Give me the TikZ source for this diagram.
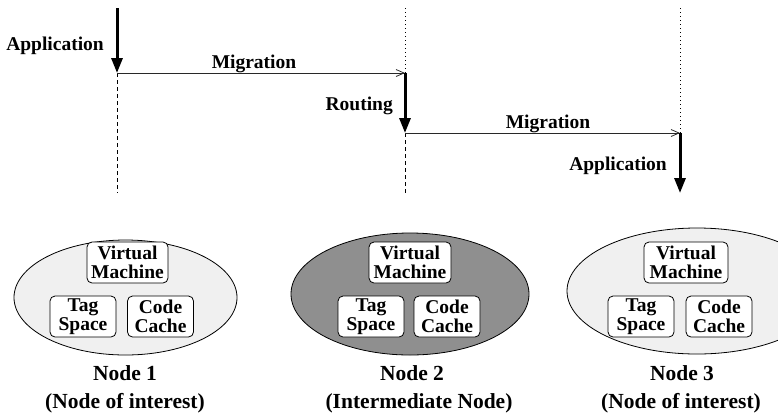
\documentclass[tikz,border=0pt]{standalone}
\usepackage{fontspec}
\setmainfont{Liberation Serif}
\usetikzlibrary{arrows.meta,shapes.geometric}
\definecolor{hostlight}{RGB}{240,240,240}
\definecolor{hostdark}{RGB}{143,143,143}
\definecolor{msgline}{RGB}{40,40,40}
\tikzset{
  lbl/.style={font=\fontsize{19.5}{18}\selectfont\bfseries, inner sep=0pt},
  caption/.style={font=\fontsize{21.5}{20}\selectfont\bfseries, inner sep=0pt},
  hostnode/.style={ellipse, draw, line width=0.8pt, inner sep=0pt},
  unitbox/.style={draw, rounded corners=5pt, fill=white, line width=0.8pt,
    minimum height=41pt, inner sep=0pt, align=center,
    font=\fontsize{19.5}{18.5}\selectfont\bfseries},
  execarrow/.style={line width=3pt, -{Triangle[length=15pt,width=11pt]}},
  migarrow/.style={line width=0.8pt, draw=msgline, -{Straight Barb[length=8pt,width=7pt,line width=0.8pt]}},
  lifeline/.style={line width=0.8pt, dash pattern=on 4pt off 3pt},
  idleline/.style={line width=0.8pt, dash pattern=on 1pt off 3pt},
}
\begin{document}
\begin{tikzpicture}[x=1pt,y=-1pt]
\useasboundingbox (0,0) rectangle (778,413);
\clip (0,0) rectangle (778,413);

% event points on the three time lines
\coordinate (s1) at (117,8);
\coordinate (m1) at (117,73);
\coordinate (b1) at (117,193);
\coordinate (s2) at (405,8);
\coordinate (m2) at (405,73);
\coordinate (r2) at (405,133);
\coordinate (b2) at (405,193);
\coordinate (s3) at (680,8);
\coordinate (m3) at (680,133);
\coordinate (b3) at (680,193);

% time lines
\draw[lifeline] (m1) -- (b1);
\draw[idleline] (s2) -- (m2);
\draw[lifeline] (r2) -- (b2);
\draw[idleline] (s3) -- (m3);

% migrations between nodes
\draw[migarrow] (m1) -- (m2);
\draw[migarrow] (r2) -- (m3);

% execution on each node
\draw[execarrow] (s1) -- (m1);
\draw[execarrow] (m2) -- (r2);
\draw[execarrow] (m3) -- (b3);

% event labels
\node[lbl, anchor=base east] (app1) at (104,50) {Application};
\node[lbl, anchor=base] (mig1) at (254,68) {Migration};
\node[lbl, anchor=base east] (rout) at (393,110) {Routing};
\node[lbl, anchor=base] (mig2) at (548,128) {Migration};
\node[lbl, anchor=base east] (app2) at (667,170) {Application};

% node 1
\node[hostnode, fill=hostlight, minimum width=223pt, minimum height=115pt] (n1) at (125.5,297.5) {};
\node[unitbox, minimum width=81pt] (vm1) at (127.5,262.5) {Virtual\\Machine};
\node[unitbox, minimum width=66pt] (ts1) at (83,316.5) {Tag\\Space};
\node[unitbox, minimum width=66pt] (cc1) at (160.5,316.5) {Code\\Cache};
\node[caption, anchor=base] (n1a) at (125,380) {Node 1};
\node[caption, anchor=base] (n1b) at (125,408) {(Node of interest)};

% node 2
\node[hostnode, fill=hostdark, minimum width=238pt, minimum height=122pt] (n2) at (410,294) {};
\node[unitbox, minimum width=82pt] (vm2) at (410,262.5) {Virtual\\Machine};
\node[unitbox, minimum width=66pt] (ts2) at (371,316.5) {Tag\\Space};
\node[unitbox, minimum width=66pt] (cc2) at (447,316.5) {Code\\Cache};
\node[caption, anchor=base] (n2a) at (412,380) {Node 2};
\node[caption, anchor=base] (n2b) at (419,408) {(Intermediate Node)};

% node 3
\node[hostnode, fill=hostlight, minimum width=260pt, minimum height=126pt] (n3) at (697,291) {};
\node[unitbox, minimum width=84pt] (vm3) at (686,262.5) {Virtual\\Machine};
\node[unitbox, minimum width=66pt] (ts3) at (641,316.5) {Tag\\Space};
\node[unitbox, minimum width=66pt] (cc3) at (719,316.5) {Code\\Cache};
\node[caption, anchor=base] (n3a) at (682,380) {Node 3};
\node[caption, anchor=base] (n3b) at (681,408) {(Node of interest)};
\end{tikzpicture}
\end{document}
